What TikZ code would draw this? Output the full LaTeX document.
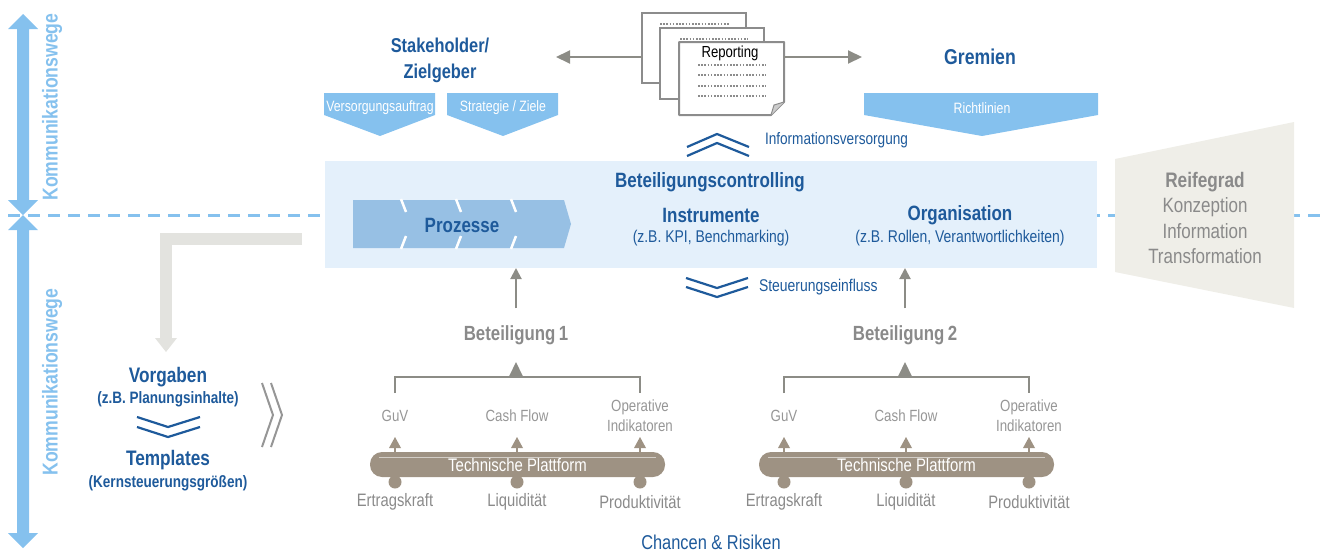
\documentclass[tikz,border=0pt]{standalone}
\usepackage{fontspec}
\setmainfont{Liberation Sans}[FakeStretch=0.82]
\usetikzlibrary{arrows.meta}
\definecolor{kblue}{RGB}{133,193,238}
\definecolor{dblue}{RGB}{30,90,155}
\definecolor{boxfill}{RGB}{228,240,251}
\definecolor{prozfill}{RGB}{151,192,228}
\definecolor{garrow}{RGB}{140,140,134}
\definecolor{taupe}{RGB}{158,146,131}
\definecolor{tgray}{RGB}{138,138,138}
\definecolor{sgray}{RGB}{150,150,150}
\definecolor{lshape}{RGB}{227,227,223}
\definecolor{trapfill}{RGB}{239,238,232}
\definecolor{docline}{RGB}{140,140,140}
\newcommand\fsz[2]{\fontsize{#1}{#2}\selectfont}
\begin{document}
\begin{tikzpicture}[x=1pt,y=-1pt,
  every node/.style={inner sep=0pt, outer sep=0pt},
  head/.style={font=\bfseries\fsz{20.7}{26}, text=dblue},
  sub/.style={font=\fsz{17}{20}, text=dblue},
  pent/.style={font=\fsz{15}{18}, text=white},
  bett/.style={font=\bfseries\fsz{20.5}{24}, text=tgray},
  small/.style={font=\fsz{16.2}{20}, text=sgray, align=center},
  bottom/.style={font=\fsz{18}{21}, text=tgray},
  reif/.style={font=\fsz{20.7}{24}, text=tgray},
  chev/.style={draw=dblue, line width=2.2pt},
  garr/.style={draw=garrow, line width=2pt, -{Triangle[length=14pt,width=13pt]}},
  garrs/.style={draw=garrow, line width=2pt, -{Triangle[length=11pt,width=11pt]}},
  gline/.style={draw=garrow, line width=2pt},
  docbox/.style={draw=docline, fill=white, line width=2pt, minimum width=104pt, minimum height=70pt},
  dotl/.style={draw=docline, line width=1.5pt, dash pattern=on 1.5pt off 1.7pt},
  platform/.style={fill=taupe, minimum width=295pt, minimum height=25pt, rounded corners=12pt, text=white, font=\fsz{18.2}{21}},
]
\useasboundingbox (0,0) rectangle (1323,554);

% dashed separator
\coordinate (dl) at (8,215);
\coordinate (dr) at (1323,215);
\draw[kblue, line width=3pt, dash pattern=on 12pt off 8pt] (dl) -- (dr);

% big communication arrows
\fill[kblue] (23,14) -- (38,29) -- (29,29) -- (29,200) -- (38,200) -- (23,215) -- (8,200) -- (17,200) -- (17,29) -- (8,29) -- cycle;
\fill[kblue] (23,215) -- (38,230) -- (29,230) -- (29,533) -- (38,533) -- (23,548) -- (8,533) -- (17,533) -- (17,230) -- (8,230) -- cycle;
\node[rotate=90, text=kblue, font=\bfseries\fsz{21.5}{25}] (kw1) at (52,107) {Kommunikationswege};
\node[rotate=90, text=kblue, font=\bfseries\fsz{21.5}{25}] (kw2) at (52,382) {Kommunikationswege};

% L-shaped grey arrow
\draw[lshape, line width=12pt, line join=miter] (302,239) -- (166,239) -- (166,339);
\fill[lshape] (155,338) -- (177,338) -- (166,352) -- cycle;

% Vorgaben / Templates
\node[font=\bfseries\fsz{21}{25}, text=dblue] (vorg) at (168,377) {Vorgaben};
\node[font=\bfseries\fsz{16.5}{20}, text=dblue] (vorgs) at (168,399) {(z.B. Planungsinhalte)};
\draw[chev] (137,417) -- (168,427) -- (200,417);
\draw[chev] (137,427) -- (168,437) -- (200,427);
\node[font=\bfseries\fsz{21}{25}, text=dblue] (tmpl) at (168,460) {Templates};
\node[font=\bfseries\fsz{16.5}{20}, text=dblue] (tmpls) at (168,483) {(Kernsteuerungsgrößen)};
\draw[draw=sgray, line width=2pt] (262,383) -- (273,415) -- (262,447);
\draw[draw=sgray, line width=2pt] (271,383) -- (282,415) -- (271,447);

% Stakeholder
\node[head, align=center, font=\bfseries\fsz{20}{26}] (stake) at (440,60) {Stakeholder/\\Zielgeber};
\fill[kblue] (324,93) -- (435,93) -- (435,115) -- (380,136) -- (324,115) -- cycle;
\node[pent] (va) at (380,108) {Versorgungsauftrag};
\fill[kblue] (447,93) -- (558,93) -- (558,115) -- (503,136) -- (447,115) -- cycle;
\node[pent] (sz) at (503,108) {Strategie / Ziele};

% Gremien
\node[head, font=\bfseries\fsz{21.5}{26}] (grem) at (980,57) {Gremien};
\fill[kblue] (864,93) -- (1098,93) -- (1098,115) -- (982,136) -- (864,115) -- cycle;
\node[pent] (rl) at (982,108) {Richtlinien};

% Reporting documents
\node[docbox] (d1) at (694,48) {};
\draw[dotl] (660,24) -- (730,24);
\node[docbox, minimum height=71pt] (d2) at (712,63.5) {};
\draw[dotl] (680,39) -- (748,39);
\draw[dotl] (680,52) -- (680,90);
\node[minimum width=105pt, minimum height=73pt] (d3) at (731.5,78.5) {};
\draw[draw=docline, fill=white, line width=2pt, line join=round] (679,42) -- (784,42) -- (784,102) -- (771,115) -- (679,115) -- cycle;
\fill[black!20] (784,102) -- (771,115) -- (774,105) -- cycle;
\draw[draw=docline, line width=1pt] (784,102) -- (774,105) -- (771,115);
\node[font=\fsz{16}{19}] (rep) at (730,53) {Reporting};
\foreach \yy in {65,75,86,96} \draw[dotl] (698,\yy) -- (766,\yy);
\coordinate (lt) at (556,57);
\coordinate (rt) at (862,57);
\draw[garr] (d1.west |- lt) -- (lt);
\draw[garr] (d3.east |- rt) -- (rt);

% Informationsversorgung
\draw[chev] (687,147) -- (717,134) -- (749,147);
\draw[chev] (687,156) -- (717,143) -- (749,156);
\node[sub, font=\fsz{16.6}{20}, anchor=west] (iv) at (765,140) {Informationsversorgung};

% main box
\node[fill=boxfill, minimum width=772pt, minimum height=107pt, anchor=north west] (bc) at (325,161) {};
\node[head] (bctitle) at (710,182) {Beteiligungscontrolling};
\fill[prozfill] (353,200) -- (564,200) -- (571,224) -- (564,248) -- (353,248) -- cycle;
\foreach \c in {404,459,514} {
  \draw[white, line width=2.5pt] (\c-3,199) -- (\c+2,212);
  \draw[white, line width=2.5pt] (\c+2,236) -- (\c-3,249);
}
\node[head] (proz) at (462,225) {Prozesse};
\node[head] (instr) at (711,215) {Instrumente};
\node[sub] (instrs) at (711,238) {(z.B. KPI, Benchmarking)};
\node[head] (orga) at (960,215) {Organisation};
\node[sub] (orgas) at (960,238) {(z.B. Rollen, Verantwortlichkeiten)};

% Reifegrad
\fill[trapfill] (1115,159) -- (1294,122) -- (1294,308) -- (1115,272) -- cycle;
\node[reif, font=\bfseries\fsz{21}{24}] (rg) at (1205,182) {Reifegrad};
\node[reif] (rg1) at (1205,207) {Konzeption};
\node[reif] (rg2) at (1205,231) {Information};
\node[reif] (rg3) at (1205,256) {Transformation};

% Steuerungseinfluss
\draw[chev] (686,278) -- (717,288) -- (748,278);
\draw[chev] (686,287) -- (717,297) -- (748,287);
\node[sub, anchor=west] (se) at (759,287) {Steuerungseinfluss};

% Beteiligungen
\foreach \dx/\n in {0/1,389/2} {
  \node[bett] (bet\n) at (516+\dx,335) {Beteiligung\,\n};
  \draw[garrs, shorten <=17pt] (bet\n.north) -- (bet\n.north |- bc.south);
  \coordinate (bl\n) at (395+\dx,393);
  \coordinate (br\n) at (640+\dx,393);
  \coordinate (bm\n) at (516+\dx,377);
  \draw[gline] (bl\n) -- (395+\dx,377) -- (640+\dx,377) -- (br\n);
  \draw[draw=garrow, line width=2pt, -{Triangle[length=15pt,width=14pt]}, shorten >=-1pt] (bm\n) -- (516+\dx,363);
  \node[small] (guv\n) at (395+\dx,416) {GuV};
  \node[small] (cf\n) at (517+\dx,416) {Cash Flow};
  \node[small] (op\n) at (640+\dx,416) {Operative\\Indikatoren};
  \node[platform] (tp\n) at (517.5+\dx,464.5) {Technische Plattform};
  \draw[draw=taupe!45!white, line width=1pt] ([xshift=9pt,yshift=-5pt]tp\n.north west) -- ([xshift=-9pt,yshift=-5pt]tp\n.north east);
  \foreach \xx in {395,517,640} {
    \fill[taupe] (\xx+\dx-6,448) -- (\xx+\dx+6,448) -- (\xx+\dx,437) -- cycle;
    \draw[taupe, line width=1.5pt] (\xx+\dx,447) -- (\xx+\dx,453);
    \draw[taupe, line width=1.5pt] (\xx+\dx,476) -- (\xx+\dx,482);
    \fill[taupe] (\xx+\dx,482) circle (6.5);
  }
  \node[bottom] (ek\n) at (395+\dx,502) {Ertragskraft};
  \node[bottom] (lq\n) at (517+\dx,502) {Liquidität};
  \node[bottom] (pr\n) at (640+\dx,502) {Produktivität};
}

\node[font=\fsz{20}{24}, text=dblue] (cr) at (711,542) {Chancen \& Risiken};
\end{tikzpicture}
\end{document}
